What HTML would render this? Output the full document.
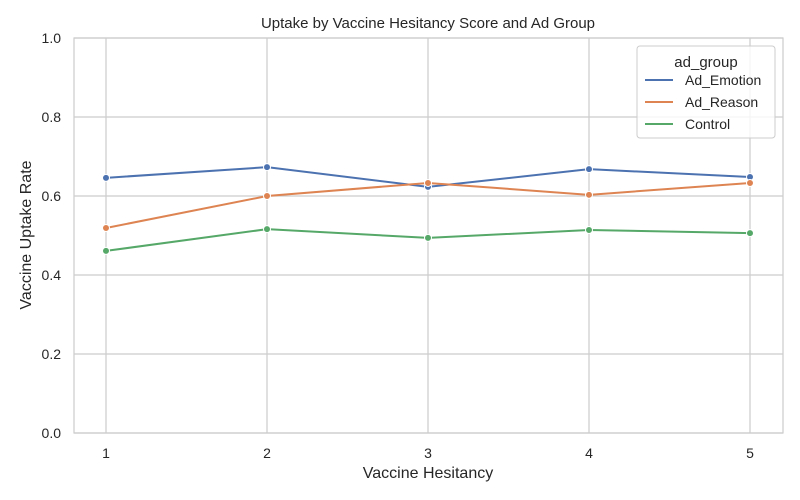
<!DOCTYPE html>
<html><head><meta charset="utf-8">
<style>
html,body{margin:0;padding:0;background:#fff;}
svg{display:block;font-family:"Liberation Sans","DejaVu Sans",sans-serif;}
</style></head>
<body>
<svg id="chart" width="800" height="500" viewBox="0 0 800 500" xmlns="http://www.w3.org/2000/svg">
<rect x="74" y="38" width="709" height="395" fill="#ffffff" stroke="#cccccc" stroke-width="1.2"/>
<g id="grid"></g>
<g id="series"></g>
<g id="ticks"></g>
<text x="428" y="28" text-anchor="middle" font-size="15" fill="#262626">Uptake by Vaccine Hesitancy Score and Ad Group</text>
<text x="428" y="478" text-anchor="middle" font-size="16" fill="#262626">Vaccine Hesitancy</text>
<text transform="translate(31,235) rotate(-90)" text-anchor="middle" font-size="16" fill="#262626">Vaccine Uptake Rate</text>
<g>
<rect x="637" y="46" width="138" height="92" rx="3" fill="#fff" fill-opacity="0.8" stroke="#cccccc"/>
<text x="706" y="67" text-anchor="middle" font-size="15" fill="#262626">ad_group</text>
<g id="legend-entries"></g>
</g>
</svg>
<script>
const categories = [1, 2, 3, 4, 5];
const seriesNames = ["Ad_Emotion", "Ad_Reason", "Control"];
const emotionValues = [0.646, 0.673, 0.623, 0.668, 0.648];
const reasonValues = [0.519, 0.600, 0.633, 0.603, 0.633];
const controlValues = [0.461, 0.516, 0.494, 0.514, 0.506];
const yTicks = [0.0, 0.2, 0.4, 0.6, 0.8, 1.0];
const yTickLabels = ["0.0", "0.2", "0.4", "0.6", "0.8", "1.0"];

const colors = ["#4c72b0", "#dd8452", "#55a868"];
const allValues = [emotionValues, reasonValues, controlValues];
const NS = "http://www.w3.org/2000/svg";
function xScale(v){ return 106 + (v - 1) * 161; }
function yScale(v){ return 433 - v * 395; }
function mk(tag, attrs, parent){ const e = document.createElementNS(NS, tag); for (const k in attrs) e.setAttribute(k, attrs[k]); parent.appendChild(e); return e; }

const grid = document.getElementById("grid");
const ticks = document.getElementById("ticks");
categories.forEach(c => {
  const l = mk("line", {x1: xScale(c), x2: xScale(c), y1: 38, y2: 433, stroke: "#cccccc", "stroke-width": 1.2}, grid);
  
  
  const t = mk("text", {x: xScale(c), y: 458, "text-anchor": "middle", "font-size": 14, fill: "#262626"}, ticks);
  t.textContent = c;
  
  
});
yTicks.forEach((v, i) => {
  const l = mk("line", {x1: 74, x2: 783, y1: yScale(v), y2: yScale(v), stroke: "#cccccc", "stroke-width": 1.2}, grid);
  
  
  const t = mk("text", {x: 61, y: yScale(v) + 5, "text-anchor": "end", "font-size": 14, fill: "#262626"}, ticks);
  t.textContent = yTickLabels[i];
  
  
});

const series = document.getElementById("series");
allValues.forEach((vals, s) => {
  const g = mk("g", {}, series);
  
  
  const pts = vals.map((v, i) => xScale(categories[i]) + "," + yScale(v)).join(" ");
  const pl = mk("polyline", {points: pts, fill: "none", stroke: colors[s], "stroke-width": 2}, g);
  
  
  vals.forEach((v, i) => {
    const c = mk("circle", {cx: xScale(categories[i]), cy: yScale(v), r: 3.5, fill: colors[s], stroke: "#fff", "stroke-width": 1}, g);
    
    
  });
});

const le = document.getElementById("legend-entries");
seriesNames.forEach((n, i) => {
  const y = 80 + i * 22;
  const l = mk("line", {x1: 645, x2: 673, y1: y, y2: y, stroke: colors[i], "stroke-width": 2}, le);
  
  
  const t = mk("text", {x: 685, y: y + 5, "font-size": 14, fill: "#262626"}, le);
  t.textContent = n;
  
  
});
</script>
</body></html>
